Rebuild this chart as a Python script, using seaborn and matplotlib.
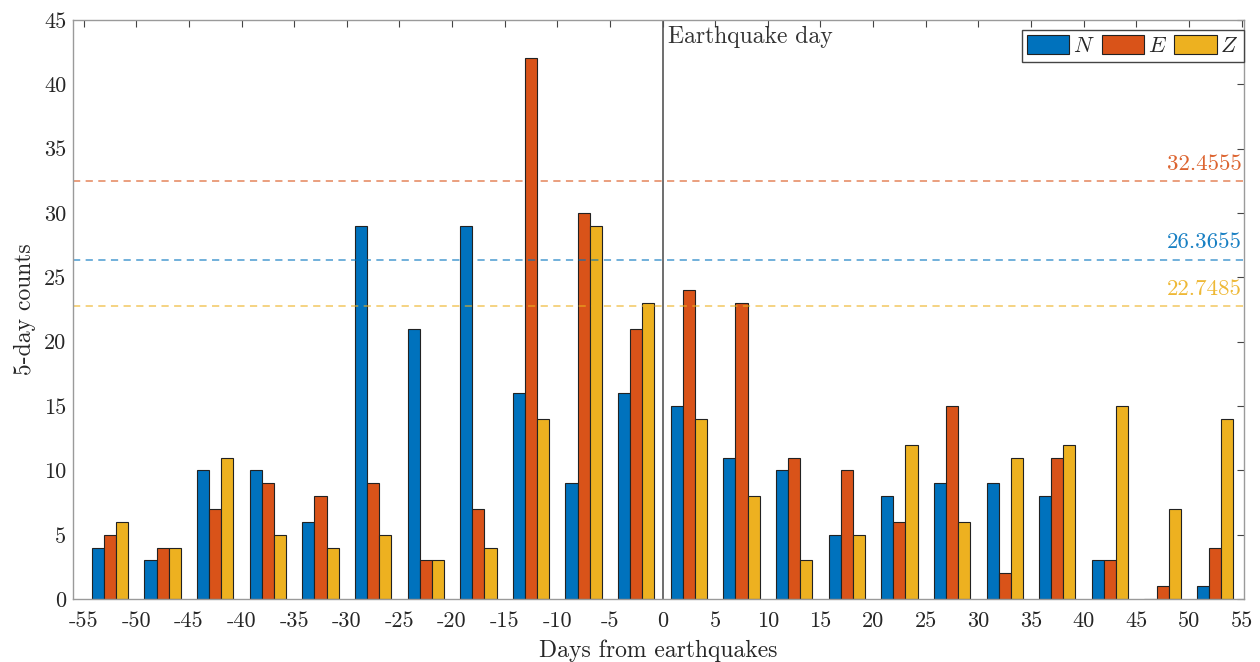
import numpy as np
import pandas as pd
import seaborn as sns
import matplotlib.pyplot as plt

dias = [-52.5, -47.5, -42.5, -37.5, -32.5, -27.5, -22.5, -17.5, -12.5, -7.5, -2.5,
        2.5, 7.5, 12.5, 17.5, 22.5, 27.5, 32.5, 37.5, 42.5, 47.5, 52.5]
cont_n = [4, 3, 10, 10, 6, 29, 21, 29, 16, 9, 16, 15, 11, 10, 5, 8, 9, 9, 8, 3, 0, 1]
cont_e = [5, 4, 7, 9, 8, 9, 3, 7, 42, 30, 21, 24, 23, 11, 10, 6, 15, 2, 11, 3, 1, 4]
cont_z = [6, 4, 11, 5, 4, 5, 3, 4, 14, 29, 23, 14, 8, 3, 5, 12, 6, 11, 12, 15, 7, 14]
limiares = {'N': 26.3655, 'E': 32.4555, 'Z': 22.7485}
xticks = list(range(-55, 60, 5))
yticks = list(range(0, 50, 5))

cores = {'N': '#0072BD', 'E': '#D95319', 'Z': '#EDB120'}

df = pd.DataFrame({
    'dia': dias * 3,
    'contagem': cont_n + cont_e + cont_z,
    'comp': ['N'] * len(dias) + ['E'] * len(dias) + ['Z'] * len(dias),
})

sns.set_style('white')
plt.rcParams['font.family'] = ['cmr10', 'DejaVu Serif']
plt.rcParams['mathtext.fontset'] = 'cm'
plt.rcParams['axes.unicode_minus'] = False
plt.rcParams['axes.formatter.use_mathtext'] = True

fig = plt.figure(figsize=(12.6, 6.62), dpi=100)
ax = fig.add_axes([0.058, 0.095, 0.929, 0.875])

sns.barplot(data=df, x='dia', y='contagem', hue='comp', native_scale=True,
            palette=cores, width=0.69, edgecolor='#222222', linewidth=0.8,
            saturation=1, ax=ax)

for c in ['E', 'N', 'Z']:
    ax.axhline(limiares[c], color=cores[c], ls='--', lw=1.3, alpha=0.6, dashes=(4, 3))
    ax.text(55, limiares[c] + 0.6, f'{limiares[c]:.4f}', color=cores[c], alpha=0.9,
            ha='right', va='bottom', fontsize=16.5)

ax.axvline(0, color='#555555', lw=1.2)
ax.text(0.5, 44.5, 'Earthquake day', ha='left', va='top', fontsize=17, color='#333333')

ax.set_xlim(-56, 55.2)
ax.set_ylim(0, 45)
ax.set_xticks(xticks)
ax.set_xticklabels([str(t) for t in xticks])
ax.set_yticks(yticks)
ax.set_yticklabels([str(t) for t in yticks])
ax.tick_params(direction='in', length=5, width=0.8, color='#444444',
               labelsize=16, labelcolor='#262626', top=True, right=True, pad=5)
ax.tick_params(axis='x', pad=9)
for s in ax.spines.values():
    s.set_color('#9a9a9a')
    s.set_linewidth(1.0)

ax.set_xlabel('Days from earthquakes', fontsize=17, color='#262626', labelpad=6)
ax.set_ylabel('5-day counts', fontsize=17, color='#262626', labelpad=6)

h, l = ax.get_legend_handles_labels()
ax.legend(h, [r'$N$', r'$E$', r'$Z$'], loc='upper right', bbox_to_anchor=(1.0, 0.983),
          ncol=3, fontsize=16,
          frameon=True, fancybox=False, edgecolor='#444444', framealpha=1,
          handlelength=1.9, handleheight=0.9, handletextpad=0.15, columnspacing=0.35,
          borderpad=0.25, borderaxespad=0.0, title=None)

fig.savefig('out.png', dpi=100)
